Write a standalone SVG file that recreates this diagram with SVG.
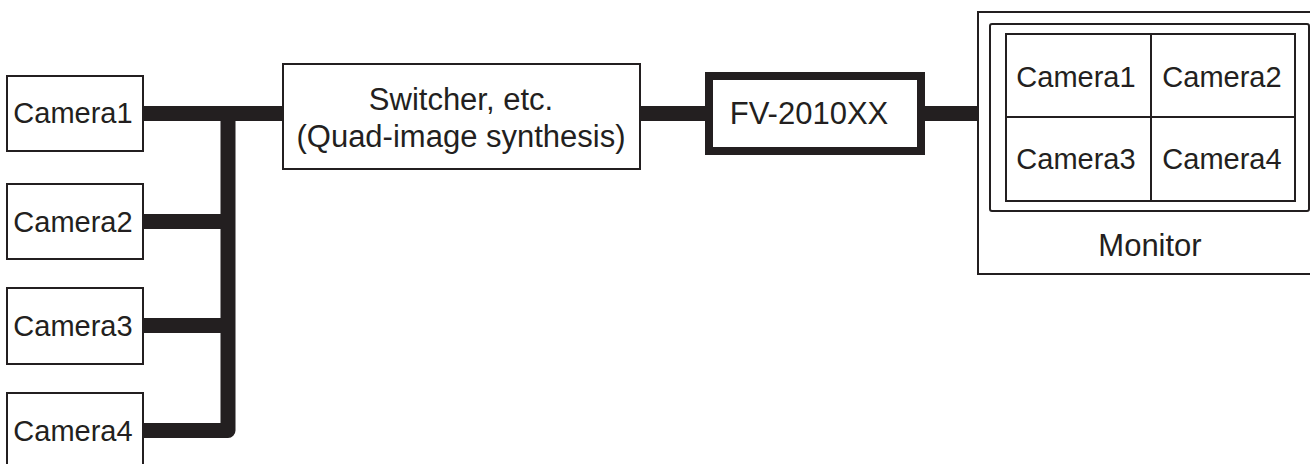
<svg xmlns="http://www.w3.org/2000/svg" width="1310" height="464" viewBox="0 0 1310 464">
<style>
.box{fill:#fff;stroke:#231f20;stroke-width:2}
.thick{fill:#fff;stroke:#231f20;stroke-width:8}
.bus{fill:none;stroke:#231f20;stroke-width:15;stroke-linejoin:round}
.grid{fill:none;stroke:#231f20;stroke-width:2}
text{font-family:"Liberation Sans",Arial,sans-serif;fill:#231f20;text-anchor:middle}
.t29{font-size:29px}
.t31{font-size:31px}
</style>
<rect width="1310" height="464" fill="#fff"/>
<g id="connectors">
<path class="bus" d="M143 430.5 H228 V113.5"/>
<path class="bus" d="M143 113.5 H283"/>
<path class="bus" d="M143 221.5 H228"/>
<path class="bus" d="M143 325.5 H228"/>
<path class="bus" d="M640 113.5 H706"/>
<path class="bus" d="M924 113.5 H978"/>
</g>
<g id="camera1">
<rect class="box" x="7" y="76" width="136" height="75"/>
<text class="t29" x="73" y="123">Camera1</text>
</g>
<g id="camera2">
<rect class="box" x="7" y="184" width="136" height="75"/>
<text class="t29" x="73" y="231.5">Camera2</text>
</g>
<g id="camera3">
<rect class="box" x="7" y="288" width="136" height="76"/>
<text class="t29" x="73" y="336">Camera3</text>
</g>
<g id="camera4">
<rect class="box" x="7" y="393" width="136" height="76"/>
<text class="t29" x="73" y="440.5">Camera4</text>
</g>
<g id="switcher">
<rect class="box" x="283" y="64" width="357" height="105"/>
<text class="t31" x="461" y="110">Switcher, etc.</text>
<text class="t31" x="461" y="147">(Quad-image synthesis)</text>
</g>
<g id="fv2010xx">
<rect class="thick" x="709" y="76" width="212" height="75"/>
<text class="t31" x="809" y="124">FV-2010XX</text>
</g>
<g id="monitor">
<rect class="box" x="978" y="12" width="340" height="262"/>
<rect class="box" x="990" y="24" width="319" height="187" rx="2"/>
<rect class="grid" x="1006" y="34" width="289" height="167"/>
<line class="grid" x1="1151" y1="34" x2="1151" y2="201"/>
<line class="grid" x1="1006" y1="117" x2="1295" y2="117"/>
<text class="t29" x="1076" y="87">Camera1</text>
<text class="t29" x="1222" y="87">Camera2</text>
<text class="t29" x="1076" y="169">Camera3</text>
<text class="t29" x="1222" y="169">Camera4</text>
<text class="t31" x="1150" y="256">Monitor</text>
</g>
</svg>
